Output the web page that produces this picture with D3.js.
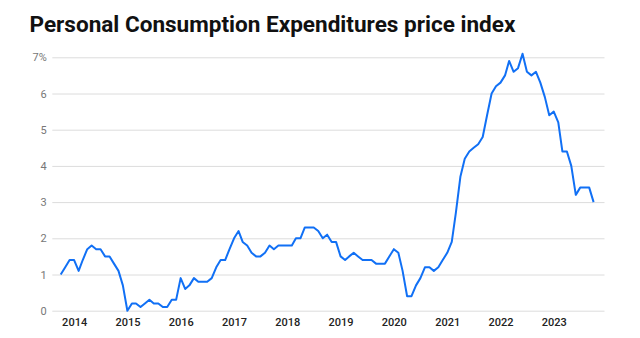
<!DOCTYPE html>
<html>
<head>
<meta charset="utf-8">
<script src="https://cdn.jsdelivr.net/npm/d3@7.9.0/dist/d3.min.js"></script>
<style>
  html, body { margin: 0; padding: 0; background: #fff; }
  svg { display: block; }
  .title { font-family: Roboto, "Noto Sans", sans-serif; font-weight: 700; fill: #111; }
  .ytick text { font-family: Roboto, "Noto Sans", sans-serif; font-size: 11px; fill: #777; }
  .xtick text { font-family: Roboto, "Noto Sans", sans-serif; font-size: 11px; font-weight: 500; fill: #222; }
</style>
</head>
<body>
<svg id="chart" width="640" height="338"></svg>
<script>
// PCE price index, year-over-year % change, monthly from Oct 2013
const startMonth = new Date(2013, 9, 1);
const pceValues = [
  1.0, 1.2, 1.4,                                               // 2013 Oct-Dec
  1.4, 1.1, 1.4, 1.7, 1.8, 1.7, 1.7, 1.5, 1.5, 1.3, 1.1, 0.7,  // 2014
  0.0, 0.2, 0.2, 0.1, 0.2, 0.3, 0.2, 0.2, 0.1, 0.1, 0.3, 0.3,  // 2015
  0.9, 0.6, 0.7, 0.9, 0.8, 0.8, 0.8, 0.9, 1.2, 1.4, 1.4, 1.7,  // 2016
  2.0, 2.2, 1.9, 1.8, 1.6, 1.5, 1.5, 1.6, 1.8, 1.7, 1.8, 1.8,  // 2017
  1.8, 1.8, 2.0, 2.0, 2.3, 2.3, 2.3, 2.2, 2.0, 2.1, 1.9, 1.9,  // 2018
  1.5, 1.4, 1.5, 1.6, 1.5, 1.4, 1.4, 1.4, 1.3, 1.3, 1.3, 1.5,  // 2019
  1.7, 1.6, 1.1, 0.4, 0.4, 0.7, 0.9, 1.2, 1.2, 1.1, 1.2, 1.4,  // 2020
  1.6, 1.9, 2.7, 3.7, 4.2, 4.4, 4.5, 4.6, 4.8, 5.4, 6.0, 6.2,  // 2021
  6.3, 6.5, 6.9, 6.6, 6.7, 7.1, 6.6, 6.5, 6.6, 6.3, 5.9, 5.4,  // 2022
  5.5, 5.2, 4.4, 4.4, 4.0, 3.2, 3.4, 3.4, 3.4, 3.0             // 2023 Jan-Oct
];
const yTicks = [0, 1, 2, 3, 4, 5, 6, 7];
const xTickYears = [2014, 2015, 2016, 2017, 2018, 2019, 2020, 2021, 2022, 2023];

const data = pceValues.map((v, i) => ({
  date: new Date(startMonth.getFullYear(), startMonth.getMonth() + i, 1),
  value: v
}));

const svg = d3.select("#chart");

const x = d3.scaleTime()
  .domain([data[0].date, data[data.length - 1].date])
  .range([60.7, 593.6]);
const y = d3.scaleLinear().domain([0, 7]).range([310.7, 57.3]);

// title
const title = svg.append("text")
  .attr("class", "title")
  .attr("x", 29.5)
  .attr("y", 32)
  .attr("font-size", 22)
  .text("Personal Consumption Expenditures price index");
// keep the heading at its intended width
const w = title.node().getComputedTextLength();
title.attr("font-size", 22 * 486 / w);

// y gridlines + labels
const yAxis = d3.axisLeft(y)
  .tickValues(yTicks)
  .tickSize(-(604.5 - 52.3))
  .tickPadding(6)
  .tickFormat(d => d === 7 ? "7%" : d);
svg.append("g")
  .attr("class", "ytick")
  .attr("transform", "translate(52.3,0)")
  .call(yAxis)
  .call(g => g.select(".domain").remove())
  .call(g => g.selectAll("line").attr("stroke", "#dcdcdc").attr("stroke-width", 1))
  .call(g => g.selectAll("text").attr("x", -5.5));

// x labels
const xAxis = d3.axisBottom(x)
  .tickValues(xTickYears.map(yr => new Date(yr, 0, 1)))
  .tickSize(0)
  .tickPadding(8)
  .tickFormat(d3.timeFormat("%Y"));
svg.append("g")
  .attr("class", "xtick")
  .attr("transform", "translate(0,310.7)")
  .call(xAxis)
  .call(g => g.select(".domain").remove());

// line
const line = d3.line()
  .x(d => x(d.date))
  .y(d => y(d.value));
svg.append("path")
  .datum(data)
  .attr("fill", "none")
  .attr("stroke", "#1170f5")
  .attr("stroke-width", 2)
  .attr("stroke-linejoin", "round")
  .attr("d", line);
</script>
</body>
</html>
